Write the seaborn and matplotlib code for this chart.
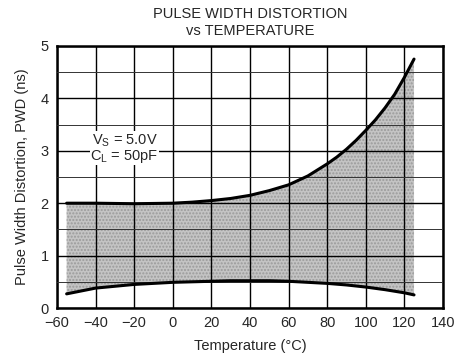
import matplotlib
matplotlib.use('Agg')
import pandas as pd
import seaborn as sns
import matplotlib.pyplot as plt

# values
temps = [-55, -40, -20, 0, 10, 20, 30, 40, 50, 60, 70, 80, 85, 90, 95, 100, 105, 110, 115, 120, 125]
pwdMax = [2.0, 2.0, 1.99, 2.0, 2.02, 2.05, 2.09, 2.15, 2.24, 2.35, 2.52, 2.75, 2.88, 3.03, 3.20, 3.39, 3.59, 3.82, 4.08, 4.40, 4.75]
pwdMin = [0.27, 0.38, 0.45, 0.49, 0.50, 0.51, 0.52, 0.52, 0.52, 0.51, 0.49, 0.47, 0.455, 0.44, 0.42, 0.40, 0.375, 0.35, 0.32, 0.29, 0.25]
xTicks = [-60, -40, -20, 0, 20, 40, 60, 80, 100, 120, 140]
yTicks = [0, 1, 2, 3, 4, 5]

df = pd.DataFrame({'temp': temps, 'max': pwdMax, 'min': pwdMin})

sns.set_style('white')
plt.rcParams['font.family'] = ['Liberation Sans', 'DejaVu Sans']

fig = plt.figure(figsize=(4.69, 3.61), dpi=100)
ax = fig.add_axes([0.1215, 0.1468, 0.823, 0.7258])

ax.fill_between(df['temp'], df['min'], df['max'], facecolor='#c4c4c4',
                hatch='.....', edgecolor='#9a9a9a', linewidth=0, zorder=1)
sns.lineplot(data=df, x='temp', y='max', color='black', linewidth=2.2, ax=ax, zorder=3)
sns.lineplot(data=df, x='temp', y='min', color='black', linewidth=2.2, ax=ax, zorder=3)

ax.set_xlim(-60, 140)
ax.set_ylim(0, 5)
ax.set_xticks(xTicks)
ax.set_yticks(yTicks)
ax.set_yticks([0.5, 1.5, 2.5, 3.5, 4.5], minor=True)
ax.grid(True, which='major', color='black', linewidth=1.0, zorder=2)
ax.grid(True, which='minor', axis='y', color='#333333', linewidth=0.7, zorder=2)
ax.set_axisbelow(False)
ax.tick_params(which='both', length=0, labelsize=10.5, pad=6)
for s in ax.spines.values():
    s.set_color('black')
    s.set_linewidth(1.8)

ax.set_xlabel('Temperature (°C)', fontsize=10.5, labelpad=6)
ax.set_ylabel('Pulse Width Distortion, PWD (ns)', fontsize=10.5, labelpad=8)
ax.set_title('PULSE WIDTH DISTORTION\nvs TEMPERATURE', fontsize=10.5, pad=8, linespacing=1.25)

ax.text(-25, 3.2, '$\\mathregular{V_S}$ = 5.0V', ha='center', va='center', fontsize=10.5,
        bbox=dict(facecolor='white', edgecolor='none', pad=0.5), zorder=4)
ax.text(-25, 2.9, '$\\mathregular{C_L}$ = 50pF', ha='center', va='center', fontsize=10.5,
        bbox=dict(facecolor='white', edgecolor='none', pad=0.5), zorder=4)

fig.savefig('out.png', dpi=100)
